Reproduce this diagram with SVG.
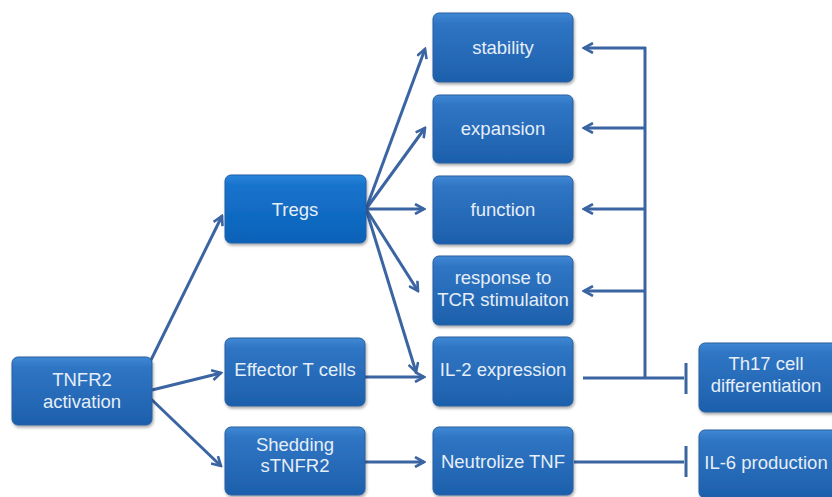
<svg xmlns="http://www.w3.org/2000/svg" width="832" height="497" viewBox="0 0 832 497">
<defs>
<linearGradient id="g" x1="0" y1="0" x2="0" y2="1">
<stop offset="0" stop-color="#4089D4"/>
<stop offset="0.15" stop-color="#2F75C4"/>
<stop offset="1" stop-color="#1D60AC"/>
</linearGradient>
<linearGradient id="gt" x1="0" y1="0" x2="0" y2="1">
<stop offset="0" stop-color="#2B86DA"/>
<stop offset="0.15" stop-color="#1773CC"/>
<stop offset="1" stop-color="#0B62B8"/>
</linearGradient>
<filter id="sh" x="-10%" y="-10%" width="125%" height="130%">
<feDropShadow dx="1" dy="2" stdDeviation="1.5" flood-color="#000" flood-opacity="0.35"/>
</filter>
<marker id="ar" viewBox="0 0 12 12" refX="10" refY="6" markerWidth="12" markerHeight="12" markerUnits="userSpaceOnUse" orient="auto">
<path d="M1,1 L10,6 L1,11" fill="none" stroke="#3A64A2" stroke-width="2.6"/>
</marker>
</defs>
<style>
.b{fill:url(#g);stroke:#2A5E9E;stroke-width:1;filter:url(#sh)}
.bt{fill:url(#gt);stroke:#1E5EA8;stroke-width:1;filter:url(#sh)}
text{font-family:"Liberation Sans",Arial,sans-serif;font-size:18.5px;fill:#E6EEF7;text-anchor:middle}
.c line,.c path{stroke:#3A64A2;stroke-width:3;fill:none}
.a{marker-end:url(#ar)}
</style>
<rect width="832" height="497" fill="#fff"/>
<g class="c">
<line class="a" x1="150" y1="362" x2="222" y2="216"/>
<line class="a" x1="152" y1="390" x2="221" y2="373"/>
<line class="a" x1="150" y1="398" x2="221" y2="466"/>
<line class="a" x1="366" y1="209" x2="425" y2="49"/>
<line class="a" x1="366" y1="209" x2="425" y2="128"/>
<line class="a" x1="366" y1="209" x2="424" y2="209"/>
<line class="a" x1="366" y1="209" x2="418" y2="291"/>
<line class="a" x1="366" y1="209" x2="416" y2="372"/>
<line class="a" x1="365" y1="377" x2="424" y2="377"/>
<line class="a" x1="365" y1="462" x2="424" y2="462"/>
<line x1="645" y1="47" x2="645" y2="378"/>
<line class="a" x1="646" y1="48" x2="584" y2="48"/>
<line class="a" x1="646" y1="128" x2="584" y2="128"/>
<line class="a" x1="646" y1="209" x2="584" y2="209"/>
<line class="a" x1="646" y1="291" x2="584" y2="291"/>
<line x1="583" y1="378" x2="684" y2="378"/>
<line x1="686" y1="363" x2="686" y2="394"/>
<line x1="574" y1="462" x2="684" y2="462"/>
<line x1="686" y1="446" x2="686" y2="477"/>
</g>
<g id="tnfr2"><rect class="b" x="12" y="357" width="140" height="68" rx="6"/><text x="82" y="386">TNFR2</text><text x="82" y="408">activation</text></g>
<g id="tregs"><rect class="bt" x="225" y="175" width="141" height="68" rx="6"/><text x="295" y="216">Tregs</text></g>
<g id="effector"><rect class="b" x="225" y="338" width="140" height="68" rx="6"/><text x="295" y="376">Effector T cells</text></g>
<g id="shedding"><rect class="b" x="225" y="427" width="140" height="68" rx="6"/><text x="295" y="451">Shedding</text><text x="295" y="472">sTNFR2</text></g>
<g id="stability"><rect class="b" x="433" y="13" width="140" height="69" rx="6"/><text x="503" y="54">stability</text></g>
<g id="expansion"><rect class="b" x="433" y="95" width="140" height="68" rx="6"/><text x="503" y="135">expansion</text></g>
<g id="function"><rect class="b" x="433" y="176" width="140" height="68" rx="6"/><text x="503" y="216">function</text></g>
<g id="response"><rect class="b" x="433" y="256" width="140" height="69" rx="6"/><text x="503" y="284">response to</text><text x="503" y="306">TCR stimulaiton</text></g>
<g id="il2"><rect class="b" x="433" y="337" width="140" height="69" rx="6"/><text x="503" y="376">IL-2 expression</text></g>
<g id="neutrolize"><rect class="b" x="433" y="427" width="140" height="68" rx="6"/><text x="503" y="468">Neutrolize TNF</text></g>
<g id="th17"><rect class="b" x="699" y="343" width="145" height="69" rx="6"/><text x="766" y="370">Th17 cell</text><text x="766" y="392">differentiation</text></g>
<g id="il6"><rect class="b" x="699" y="430" width="145" height="68" rx="6"/><text x="766" y="469">IL-6 production</text></g>
</svg>
